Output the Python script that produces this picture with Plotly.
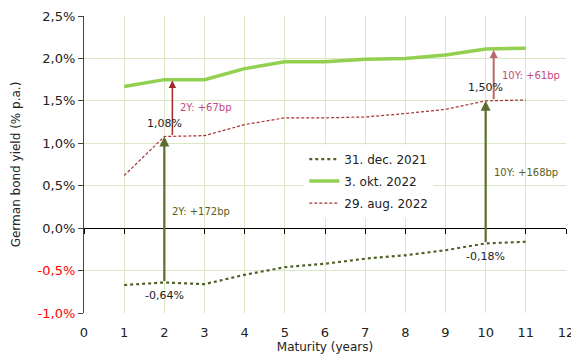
import plotly.graph_objects as go

maturity = [1, 2, 3, 4, 5, 6, 7, 8, 9, 10, 11]
dec2021 = [-0.67, -0.64, -0.66, -0.55, -0.46, -0.42, -0.36, -0.32, -0.26, -0.18, -0.16]
okt2022 = [1.67, 1.75, 1.75, 1.88, 1.96, 1.96, 1.99, 2.00, 2.04, 2.11, 2.12]
aug2022 = [0.62, 1.08, 1.09, 1.22, 1.30, 1.30, 1.31, 1.35, 1.40, 1.50, 1.51]

series_names = ["31. dec. 2021", "3. okt. 2022", "29. aug. 2022"]
ytick_vals = [-1.0, -0.5, 0.0, 0.5, 1.0, 1.5, 2.0, 2.5]
ytick_text = ['<span style="color:#ff0000">-1,0%</span>', '<span style="color:#ff0000">-0,5%</span>',
              "0,0%", "0,5%", "1,0%", "1,5%", "2,0%", "2,5%"]
xtick_vals = list(range(0, 13))

FONT = "DejaVu Sans"
olive = "#4f6228"
green = "#92d050"
brown = "#a83232"
grid = "#dce8c4"

fig = go.Figure()
fig.add_trace(go.Scatter(x=maturity, y=dec2021, name=series_names[0], mode="lines", legendgroup="a",
                         line=dict(color=olive, width=2.2, dash="dot")))
fig.add_trace(go.Scatter(x=maturity, y=okt2022, name=series_names[1], mode="lines", legendgroup="b",
                         line=dict(color=green, width=3.5)))
fig.add_trace(go.Scatter(x=maturity, y=aug2022, name=series_names[2], mode="lines", legendgroup="c",
                         line=dict(color=brown, width=1.2, dash="3px,2px")))

i2 = maturity.index(2)
i10 = maturity.index(10)

ann = []
# green arrows (Dec 2021 -> Aug 2022)
for i in (i2, i10):
    ann.append(dict(x=maturity[i], y=aug2022[i], ax=maturity[i], ay=dec2021[i],
                    xref="x", yref="y", axref="x", ayref="y", showarrow=True,
                    arrowhead=2, arrowsize=0.9, arrowwidth=2.2, arrowcolor="#5b6e2c", text=""))
# red arrows (Aug 2022 -> Okt 2022)
ann.append(dict(x=maturity[i2] + 0.2, y=okt2022[i2] - 0.01, ax=maturity[i2] + 0.2, ay=aug2022[i2],
                xref="x", yref="y", axref="x", ayref="y", showarrow=True,
                arrowhead=2, arrowsize=1.0, arrowwidth=1.5, arrowcolor="#9e2a2a", text=""))
ann.append(dict(x=maturity[i10] + 0.2, y=okt2022[i10] - 0.01, ax=maturity[i10] + 0.2, ay=aug2022[i10],
                xref="x", yref="y", axref="x", ayref="y", showarrow=True,
                arrowhead=2, arrowsize=0.8, arrowwidth=2, arrowcolor="#b86a6a", text=""))

def fmt(v):
    return ("%.2f" % v).replace(".", ",") + "%"

txt = dict(xref="x", yref="y", showarrow=False, font=dict(family=FONT, size=11, color="#222222"))
ann.append(dict(x=maturity[i2], y=aug2022[i2], text=fmt(aug2022[i2]), yshift=13, **txt))
ann.append(dict(x=maturity[i10], y=aug2022[i10], text=fmt(aug2022[i10]), yshift=13, **txt))
ann.append(dict(x=maturity[i2], y=dec2021[i2], text=fmt(dec2021[i2]), yshift=-13, **txt))
ann.append(dict(x=maturity[i10], y=dec2021[i10], text=fmt(dec2021[i10]), yshift=-13, **txt))

bp2_aug = round((okt2022[i2] - aug2022[i2]) * 100)
bp10_aug = round((okt2022[i10] - aug2022[i10]) * 100)
bp2_dec = round((aug2022[i2] - dec2021[i2]) * 100)
bp10_dec = round((aug2022[i10] - dec2021[i10]) * 100)

lab = dict(xref="x", yref="y", showarrow=False, xanchor="left")
ann.append(dict(x=2.35, y=1.42, text="2Y: +%dbp" % bp2_aug,
                font=dict(family=FONT, size=10, color="#c04a80"), **lab))
ann.append(dict(x=10.35, y=1.80, text="10Y: +%dbp" % bp10_aug,
                font=dict(family=FONT, size=10, color="#c04a80"), **lab))
ann.append(dict(x=2.15, y=0.20, text="2Y: +%dbp" % bp2_dec,
                font=dict(family=FONT, size=10, color="#5a5e20"), **lab))
ann.append(dict(x=10.15, y=0.65, text="10Y: +%dbp" % bp10_dec,
                font=dict(family=FONT, size=10, color="#5a5e20"), **lab))

fig.update_layout(
    width=571, height=350,
    margin=dict(l=76, r=13, t=8, b=45),
    paper_bgcolor="white", plot_bgcolor="white",
    font=dict(family=FONT, size=12, color="#222222"),
    showlegend=True,
    legend=dict(x=0.457, y=0.567, xanchor="left", yanchor="top", bgcolor="white",
                font=dict(family=FONT, size=12, color="#222222"),
                itemwidth=30, tracegroupgap=3),
    annotations=ann,
    xaxis=dict(range=[0, 12], tickvals=xtick_vals, showgrid=True, gridcolor=grid, gridwidth=1,
               zeroline=False, showline=False, ticks="", automargin=False,
               ticklabelstandoff=10, ticklabeloverflow="allow",
               title=dict(text="Maturity (years)", font=dict(size=12), standoff=2),
               tickfont=dict(size=13)),
    xaxis2=dict(range=[0, 12], tickvals=xtick_vals, overlaying="x", anchor="free",
                position=(0 - (-1.0)) / 3.5, showline=True, linecolor="#000000", linewidth=1.2,
                ticks="outside", ticklen=5, tickcolor="#000000", showticklabels=False,
                showgrid=False, zeroline=False, side="bottom", automargin=False),
    yaxis=dict(range=[-1.0, 2.5], tickvals=ytick_vals, ticktext=ytick_text, showgrid=True,
               gridcolor=grid, gridwidth=1, zeroline=False, showline=True, linecolor="#444444",
               linewidth=1.2, ticks="outside", ticklen=5, tickcolor="#444444", automargin=False,
               ticklabeloverflow="allow",
               title=dict(text="German bond yield (% p.a.)", font=dict(size=12), standoff=14),
               tickfont=dict(size=13)),
)
fig.add_trace(go.Scatter(x=[0, 12], y=[None, None], xaxis="x2", showlegend=False,
                         hoverinfo="skip", mode="lines"))

fig.write_html("out.html")
